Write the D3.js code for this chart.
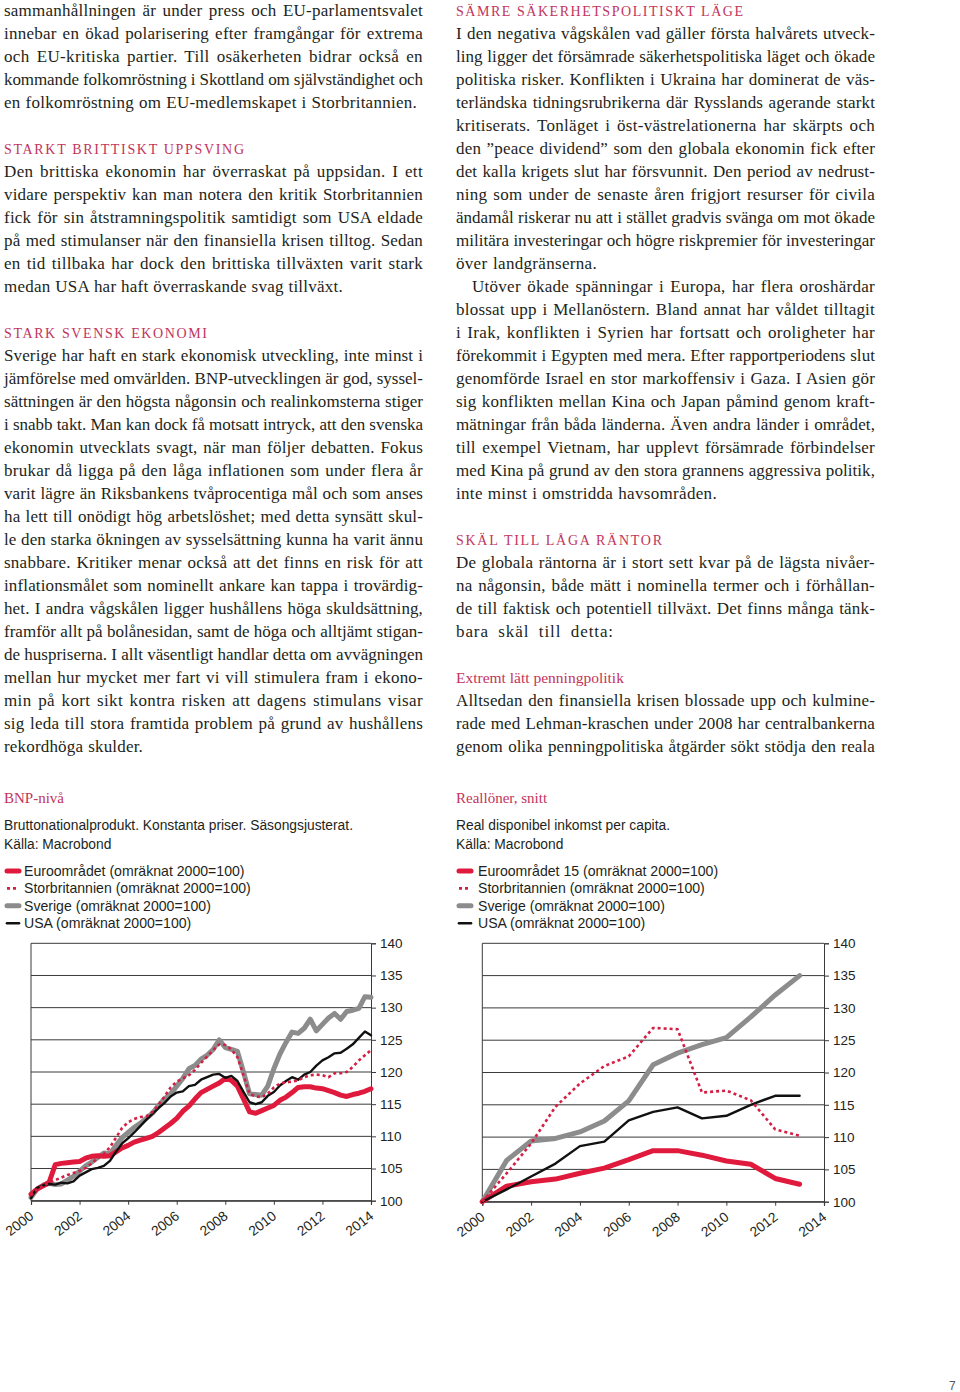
<!DOCTYPE html>
<html><head><meta charset="utf-8">
<script src="https://cdn.jsdelivr.net/npm/d3@7"></script>
<style>
html,body{margin:0;padding:0;background:#fff;}
svg{display:block;}
</style></head>
<body>
<svg id="page" width="960" height="1392"></svg>
<script>
// ---------------- DATA ----------------
const seriesNames = ["Euroområdet","Storbritannien","Sverige","USA"];

// BNP-nivå, quarterly, 2000Q1 .. 2014Q1
const bnpStartYear = 2000;
const bnpEuro = [101.0,101.8,102.3,102.9,105.6,105.8,105.9,106.0,106.1,106.6,106.9,107.0,106.9,107.0,107.6,108.2,
  108.6,109.1,109.4,109.7,110.0,110.6,111.3,112.0,112.8,113.9,114.7,115.8,116.8,117.3,117.8,118.3,
  119.0,118.7,117.8,115.8,113.8,113.6,114.0,114.4,114.8,115.6,116.1,116.8,117.6,117.7,117.7,117.5,
  117.4,117.1,116.8,116.4,116.2,116.5,116.7,117.0,117.4];
const bnpUK = [100.8,101.8,102.3,102.8,103.2,103.6,104.0,104.3,104.6,105.1,105.8,106.6,107.3,108.3,109.8,111.3,
  112.2,112.7,113.0,113.1,113.8,114.9,116.2,117.6,118.5,119.0,119.5,120.3,121.4,122.4,123.4,124.3,
  124.2,123.5,122.3,119.5,116.6,116.2,116.1,116.6,117.6,118.2,118.4,118.5,118.7,119.2,119.5,119.6,
  119.5,119.2,119.8,119.8,120.0,120.8,121.8,122.6,123.4];
const bnpSweden = [100.5,101.8,102.4,102.7,102.5,102.6,103.2,103.8,104.6,105.4,106.0,106.7,107.4,107.3,108.6,109.8,
  110.6,111.4,112.0,112.8,113.6,114.8,115.8,116.6,117.8,119.0,120.5,121.0,122.0,122.6,123.5,125.0,
  123.8,123.5,123.2,120.0,116.6,116.5,116.4,117.8,120.5,122.8,124.6,126.2,126.0,126.8,128.2,126.4,
  127.4,128.4,129.1,128.2,129.4,129.6,129.9,131.7,131.6];
const bnpUSA = [100.4,102.0,102.4,102.6,102.5,102.8,102.7,103.0,103.9,104.4,104.9,105.1,105.4,106.2,107.6,108.9,
  109.7,110.6,111.6,112.6,113.5,114.4,115.2,116.2,116.8,117.0,117.8,118.0,118.8,119.2,119.6,119.7,
  119.1,119.4,118.6,116.9,115.3,115.0,115.3,116.3,116.9,117.9,118.6,119.2,118.8,119.6,120.0,121.0,
  121.8,122.3,122.9,123.0,123.6,124.3,125.3,126.3,125.7];

// Reallöner, annual 2000..2013
const wageYears = [2000,2001,2002,2003,2004,2005,2006,2007,2008,2009,2010,2011,2012,2013];
const wageEuro15 = [100,102.4,103.1,103.5,104.4,105.2,106.5,107.9,107.9,107.2,106.3,105.8,103.6,102.7];
const wageUK     = [100,104.4,109.0,114.7,118.3,121.0,122.5,126.9,126.7,116.9,117.2,115.7,111.2,110.2];
const wageSweden = [100,106.4,109.4,109.8,110.8,112.5,115.6,121.2,123.0,124.3,125.4,128.6,132.0,135.0];
const wageUSA    = [100,101.9,103.9,105.9,108.6,109.3,112.6,113.9,114.6,112.9,113.3,115.0,116.4,116.4];

const yTicks = [100,105,110,115,120,125,130,135,140];
const xTickYears = [2000,2002,2004,2006,2008,2010,2012,2014];

const bnpLegend = ["Euroområdet (omräknat 2000=100)","Storbritannien (omräknat 2000=100)","Sverige (omräknat 2000=100)","USA (omräknat 2000=100)"];
const wageLegend = ["Euroområdet 15 (omräknat 2000=100)","Storbritannien (omräknat 2000=100)","Sverige (omräknat 2000=100)","USA (omräknat 2000=100)"];

// ---------------- TEXT ----------------
// [lineIndex, text, type, endX]  type: J=justified, JI=justified+indent, L=last line, H=heading, S=subheading
const leftCol = [
 [0,"sammanhållningen är under press och EU-parlamentsvalet","J"],
 [1,"innebar en ökad polarisering efter framgångar för extrema","J"],
 [2,"och EU-kritiska partier. Till osäkerheten bidrar också en","J"],
 [3,"kommande folkomröstning i Skottland om självständighet och","J"],
 [4,"en folkomröstning om EU-medlemskapet i Storbritannien.","L",417],
 [6,"STARKT BRITTISKT UPPSVING","H",244],
 [7,"Den brittiska ekonomin har överraskat på uppsidan. I ett","J"],
 [8,"vidare perspektiv kan man notera den kritik Storbritannien","J"],
 [9,"fick för sin åtstramningspolitik samtidigt som USA eldade","J"],
 [10,"på med stimulanser när den finansiella krisen tilltog. Sedan","J"],
 [11,"en tid tillbaka har dock den brittiska tillväxten varit stark","J"],
 [12,"medan USA har haft överraskande svag tillväxt.","L",343],
 [14,"STARK SVENSK EKONOMI","H",207],
 [15,"Sverige har haft en stark ekonomisk utveckling, inte minst i","J"],
 [16,"jämförelse med omvärlden. BNP-utvecklingen är god, syssel-","J"],
 [17,"sättningen är den högsta någonsin och realinkomsterna stiger","J"],
 [18,"i snabb takt. Man kan dock få motsatt intryck, att den svenska","J"],
 [19,"ekonomin utvecklats svagt, när man följer debatten. Fokus","J"],
 [20,"brukar då ligga på den låga inflationen som under flera år","J"],
 [21,"varit lägre än Riksbankens tvåprocentiga mål och som anses","J"],
 [22,"ha lett till onödigt hög arbetslöshet; med detta synsätt skul-","J"],
 [23,"le den starka ökningen av sysselsättning kunna ha varit ännu","J"],
 [24,"snabbare. Kritiker menar också att det finns en risk för att","J"],
 [25,"inflationsmålet som nominellt ankare kan tappa i trovärdig-","J"],
 [26,"het. I andra vågskålen ligger hushållens höga skuldsättning,","J"],
 [27,"framför allt på bolånesidan, samt de höga och alltjämt stigan-","J"],
 [28,"de huspriserna. I allt väsentligt handlar detta om avvägningen","J"],
 [29,"mellan hur mycket mer fart vi vill stimulera fram i ekono-","J"],
 [30,"min på kort sikt kontra risken att dagens stimulans visar","J"],
 [31,"sig leda till stora framtida problem på grund av hushållens","J"],
 [32,"rekordhöga skulder.","L",143]
];
const rightCol = [
 [0,"SÄMRE SÄKERHETSPOLITISKT LÄGE","H",743],
 [1,"I den negativa vågskålen vad gäller första halvårets utveck-","J"],
 [2,"ling ligger det försämrade säkerhetspolitiska läget och ökade","J"],
 [3,"politiska risker. Konflikten i Ukraina har dominerat de väs-","J"],
 [4,"terländska tidningsrubrikerna där Rysslands agerande starkt","J"],
 [5,"kritiserats. Tonläget i öst-västrelationerna har skärpts och","J"],
 [6,"den ”peace dividend” som den globala ekonomin fick efter","J"],
 [7,"det kalla krigets slut har försvunnit. Den period av nedrust-","J"],
 [8,"ning som under de senaste åren frigjort resurser för civila","J"],
 [9,"ändamål riskerar nu att i stället gradvis svänga om mot ökade","J"],
 [10,"militära investeringar och högre riskpremier för investeringar","J"],
 [11,"över landgränserna.","L",597],
 [12,"Utöver ökade spänningar i Europa, har flera oroshärdar","JI"],
 [13,"blossat upp i Mellanöstern. Bland annat har våldet tilltagit","J"],
 [14,"i Irak, konflikten i Syrien har fortsatt och oroligheter har","J"],
 [15,"förekommit i Egypten med mera. Efter rapportperiodens slut","J"],
 [16,"genomförde Israel en stor markoffensiv i Gaza. I Asien gör","J"],
 [17,"sig konflikten mellan Kina och Japan påmind genom kraft-","J"],
 [18,"mätningar från båda länderna. Även andra länder i området,","J"],
 [19,"till exempel Vietnam, har upplevt försämrade förbindelser","J"],
 [20,"med Kina på grund av den stora grannens aggressiva politik,","J"],
 [21,"inte minst i omstridda havsområden.","L",717],
 [23,"SKÄL TILL LÅGA RÄNTOR","H",662],
 [24,"De globala räntorna är i stort sett kvar på de lägsta nivåer-","J"],
 [25,"na någonsin, både mätt i nominella termer och i förhållan-","J"],
 [26,"de till faktisk och potentiell tillväxt. Det finns många tänk-","J"],
 [27,"bara skäl till detta:","L",614],
 [29,"Extremt lätt penningpolitik","S",627],
 [30,"Alltsedan den finansiella krisen blossade upp och kulmine-","J"],
 [31,"rade med Lehman-kraschen under 2008 har centralbankerna","J"],
 [32,"genom olika penningpolitiska åtgärder sökt stödja den reala","J"]
];

// ---------------- STYLE ----------------
const PINK = "#c2345c";
const TEXT = "#231f20";
const SERIF = "'Liberation Serif', 'Times New Roman', serif";
const SANS = "'Liberation Sans', Arial, Helvetica, sans-serif";
const RED = "#e01a3c", RED_DOT = "#d41f44", GRAY = "#8c8c8c", BLACK = "#111111";
const seriesStyle = [
  {color:RED, width:5, dash:null, cap:"round"},
  {color:RED_DOT, width:2.6, dash:"3,3", cap:"butt"},
  {color:GRAY, width:5, dash:null, cap:"round"},
  {color:BLACK, width:2.4, dash:null, cap:"round"}
];

const svg = d3.select("#page");
svg.append("rect").attr("width",960).attr("height",1392).attr("fill","#fff");

// ---------------- BODY TEXT ----------------
const BODY_SIZE = "17px";
// Fit a line into width: share extra space between letters and word gaps.
function fitLine(t, txt, width, maxLs, share) {
  const w0 = t.node().getComputedTextLength();
  const n = (txt.match(/ /g)||[]).length;
  const nc = txt.length;
  const extra = width - w0;
  let ls, ws;
  if (extra <= 0) {
    ls = extra / nc; ws = 0;
  } else {
    ls = Math.min(maxLs, extra * share / nc);
    ws = n > 0 ? (extra - ls * nc) / n : 0;
  }
  t.style("letter-spacing", ls + "px").style("word-spacing", ws + "px");
}
function drawColumn(lines, x0, x1) {
  const g = svg.append("g");
  lines.forEach(([idx, txt, type, endX]) => {
    const base = 15.5 + 23 * idx;
    const t = g.append("text").attr("y", base).text(txt).attr("fill", TEXT)
      .style("font-family", SERIF).style("font-size", BODY_SIZE);
    if (type === "H") {
      t.attr("x", x0).attr("fill", PINK).style("font-size","14px")
       .attr("textLength", endX - x0).attr("lengthAdjust","spacing");
    } else if (type === "S") {
      t.attr("x", x0).attr("fill", PINK).style("font-size","15.5px");
    } else if (type === "L") {
      t.attr("x", x0);
      fitLine(t, txt, endX - x0, 0.9, 0.85);
    } else {
      const start = type === "JI" ? x0 + 16 : x0;
      t.attr("x", start);
      fitLine(t, txt, x1 - start, 0.45, 0.55);
    }
  });
}
drawColumn(leftCol, 4, 423);
drawColumn(rightCol, 456, 875);

// ---------------- CHARTS ----------------
function drawChart(cfg) {
  const g = svg.append("g");
  g.append("text").attr("x", cfg.tx).attr("y", 803).text(cfg.title)
    .attr("fill", PINK).style("font-family", SERIF).style("font-size","15px");
  cfg.sub.forEach((s,i)=>{
    g.append("text").attr("x", cfg.tx).attr("y", 830 + 19*i).text(s)
      .attr("fill", TEXT).style("font-family", SANS).style("font-size","13.8px");
  });
  const lg = g.append("g");
  cfg.legend.forEach((s,i)=>{
    const y = 871 + 17.4*i;
    const st = seriesStyle[i];
    lg.append("line").attr("x1", cfg.tx+3).attr("x2", cfg.tx+15).attr("y1", y).attr("y2", y)
      .attr("stroke", st.color).attr("stroke-width", (i===1 || i===3) ? 2.6 : 5)
      .attr("stroke-linecap", i===1 ? "butt" : "round")
      .attr("stroke-dasharray", i===1 ? "3,3" : null);
    lg.append("text").attr("x", cfg.lx).attr("y", y + 5).text(s)
      .attr("fill", TEXT).style("font-family", SANS).style("font-size","14.1px");
  });

  const x = d3.scaleLinear().domain([2000, 2014]).range([cfg.x0, cfg.x1]);
  const y = d3.scaleLinear().domain([100, 140]).range([cfg.yB, cfg.yT]);

  g.append("g").selectAll("line").data(yTicks).join("line")
    .attr("x1", cfg.x0).attr("x2", cfg.x1).attr("y1", d=>y(d)).attr("y2", d=>y(d))
    .attr("stroke", "#3a3a3a").attr("stroke-width", 1);

  const ya = d3.axisRight(y).tickValues(yTicks).tickSize(5).tickPadding(4).tickFormat(d3.format("d"));
  const yg = g.append("g").attr("transform", `translate(${cfg.x1},0)`).call(ya);
  yg.select(".domain").attr("stroke","#3a3a3a");
  yg.selectAll(".tick line").attr("stroke","#3a3a3a");
  yg.selectAll("text").style("font-family", SANS).style("font-size","13.5px").attr("fill", TEXT);

  g.append("line").attr("x1", cfg.x0).attr("x2", cfg.x0).attr("y1", cfg.yT).attr("y2", cfg.yB)
    .attr("stroke","#3a3a3a").attr("stroke-width",1);

  const xa = d3.axisBottom(x).tickValues(xTickYears).tickSize(4).tickFormat(d3.format("d"));
  const xg = g.append("g").attr("transform", `translate(0,${cfg.yB})`).call(xa);
  xg.select(".domain").attr("stroke","#3a3a3a").attr("stroke-width",1.2);
  xg.selectAll(".tick line").attr("stroke","#3a3a3a");
  xg.selectAll("text").style("font-family", SANS).style("font-size","13.8px").attr("fill", TEXT)
    .attr("text-anchor","end").attr("dy", null).attr("y", 0)
    .attr("transform","translate(3,17) rotate(-38)");

  const order = [2,0,3,1];
  const line = d3.line().x(d=>x(d[0])).y(d=>y(d[1]));
  order.forEach(i=>{
    const st = seriesStyle[i];
    const pts = cfg.xs.map((xv,k)=>[xv, cfg.data[i][k]]);
    g.append("path").attr("d", line(pts)).attr("fill","none")
      .attr("stroke", st.color).attr("stroke-width", st.width)
      .attr("stroke-linejoin","round").attr("stroke-linecap", st.cap)
      .attr("stroke-dasharray", st.dash);
  });
}

const bnpX = bnpEuro.map((_,k)=> bnpStartYear + k/4);
drawChart({
  title:"BNP-nivå", sub:["Bruttonationalprodukt. Konstanta priser. Säsongsjusterat.","Källa: Macrobond"],
  legend: bnpLegend, tx:4, lx:24,
  x0:31, x1:371, yT:943.3, yB:1200.7,
  xs: bnpX, data:[bnpEuro, bnpUK, bnpSweden, bnpUSA]
});
drawChart({
  title:"Reallöner, snitt", sub:["Real disponibel inkomst per capita.","Källa: Macrobond"],
  legend: wageLegend, tx:456, lx:478,
  x0:482.3, x1:824, yT:943.3, yB:1201.7,
  xs: wageYears, data:[wageEuro15, wageUK, wageSweden, wageUSA]
});

svg.append("text").attr("x", 949).attr("y", 1390).text("7")
  .attr("fill","#555").style("font-family", SANS).style("font-size","12px");
</script>
</body></html>
